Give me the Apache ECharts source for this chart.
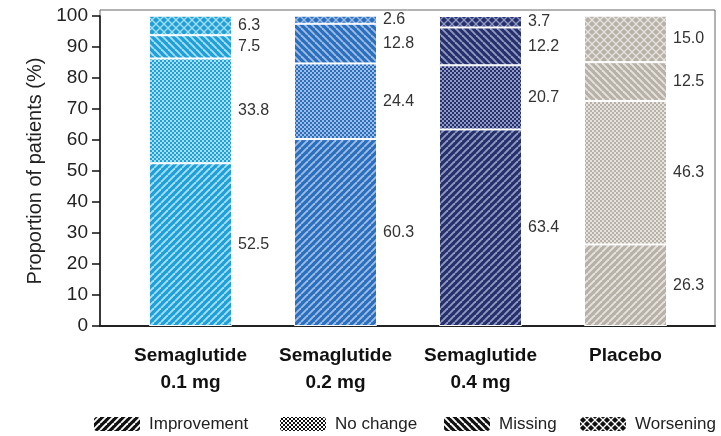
<!DOCTYPE html>
<html>
<head>
<meta charset="utf-8">
<script src="https://cdn.jsdelivr.net/npm/echarts@6/dist/echarts.min.js"></script>
<style>
html,body{margin:0;padding:0;background:#fff;}
#chart{width:721px;height:436px;}
</style>
</head>
<body>
<div id="chart"></div>
<script>
const categories = ['Semaglutide\n0.1 mg', 'Semaglutide\n0.2 mg', 'Semaglutide\n0.4 mg', 'Placebo'];
const seriesNames = ['Improvement', 'No change', 'Missing', 'Worsening'];
const improvement = [52.5, 60.3, 63.4, 26.3];
const noChange = [33.8, 24.4, 20.7, 46.3];
const missing = [7.5, 12.8, 12.2, 12.5];
const worsening = [6.3, 2.6, 3.7, 15.0];
const yMin = 0, yMax = 100, yInterval = 10;

const palette = [
  {bg: '#1ea0d8', fg: '#a8def4'},
  {bg: '#2c6fbd', fg: '#9bbde6'},
  {bg: '#26316b', fg: '#9098c4'},
  {bg: '#b7b1a8', fg: '#e6e3de'}
];
const kinds = ['fwd', 'checker', 'back', 'diamond'];

function pat(kind, bg, fg) {
  const c = document.createElement('canvas');
  let s = 7;
  if (kind === 'checker') s = 4;
  if (kind === 'diamond') s = 8;
  c.width = c.height = s;
  const g = c.getContext('2d');
  g.fillStyle = bg; g.fillRect(0, 0, s, s);
  g.strokeStyle = fg; g.fillStyle = fg;
  if (kind === 'fwd' || kind === 'back') {
    g.lineWidth = 1.9;
    for (const o of [-s, 0, s]) {
      g.beginPath();
      if (kind === 'fwd') { g.moveTo(o, s); g.lineTo(o + s, 0); }
      else { g.moveTo(o, 0); g.lineTo(o + s, s); }
      g.stroke();
    }
  } else if (kind === 'checker') {
    g.fillRect(2, 0, 2, 2);
    g.fillRect(0, 2, 2, 2);
  } else {
    g.fillRect(0, 0, s, s);
    g.fillStyle = bg;
    const r = 3.1;
    for (const [cx, cy] of [[4,4],[0,0],[8,0],[0,8],[8,8]]) {
      g.beginPath();
      g.moveTo(cx, cy - r); g.lineTo(cx + r, cy); g.lineTo(cx, cy + r); g.lineTo(cx - r, cy);
      g.closePath(); g.fill();
    }
  }
  return c;
}

const values = [improvement, noChange, missing, worsening];
const series = seriesNames.map((name, k) => ({
  name: name,
  type: 'bar',
  stack: 'total',
  xAxisIndex: 1,
  yAxisIndex: 1,
  barWidth: 83,
  itemStyle: {
    color: {image: pat(kinds[k], '#111', '#fff'), repeat: 'repeat'},
    borderColor: '#fff',
    borderWidth: 1
  },
  label: {
    show: true,
    position: 'right',
    distance: 6,
    fontSize: 16,
    color: '#333',
    fontFamily: 'Liberation Sans, Arial, sans-serif',
    formatter: p => p.value.toFixed(1)
  },
  data: values[k].map((v, i) => ({
    value: v,
    itemStyle: {color: {image: pat(kinds[k], palette[i].bg, palette[i].fg), repeat: 'repeat'}}
  }))
}));

const legendLefts = [92, 278, 442, 578];
const legends = seriesNames.map((n, k) => ({
  data: [n],
  left: legendLefts[k],
  top: 415,
  padding: 0,
  itemWidth: 48,
  itemHeight: 16,
  selectedMode: false,
  textStyle: {fontSize: 17, color: '#222', fontFamily: 'Liberation Sans, Arial, sans-serif', padding: [0, 0, 0, 3]}
}));

const chart = echarts.init(document.getElementById('chart'), null, {renderer: 'canvas'});
chart.setOption({
  backgroundColor: '#fff',
  animation: false,
  textStyle: {fontFamily: 'Liberation Sans, Arial, sans-serif'},
  grid: [
    {left: 100, right: 6, top: 10, bottom: 110, show: true, borderColor: '#666', borderWidth: 1},
    {left: 118, right: 23, top: 16, bottom: 110}
  ],
  xAxis: [
    {gridIndex: 0, type: 'value', min: 0, max: 1,
     axisLine: {show: true, onZero: false, lineStyle: {color: '#222', width: 2}},
     axisTick: {show: false}, axisLabel: {show: false}, splitLine: {show: false}},
    {gridIndex: 1, type: 'category', data: categories,
     axisLine: {show: false}, axisTick: {show: false},
     axisLabel: {interval: 0, fontSize: 19, fontWeight: 'bold', color: '#111', lineHeight: 27, margin: 16}}
  ],
  yAxis: [
    {gridIndex: 0, type: 'value', min: 0, max: 1, show: false},
    {gridIndex: 1, type: 'value', min: yMin, max: yMax, interval: yInterval, offset: 18,
     axisLine: {show: true, lineStyle: {color: '#111', width: 1.5}},
     axisTick: {show: true, length: 8, lineStyle: {color: '#111', width: 1.5}},
     axisLabel: {fontSize: 19, color: '#222', margin: 12},
     splitLine: {show: false},
     name: 'Proportion of patients (%)', nameLocation: 'middle', nameGap: 54,
     nameTextStyle: {fontSize: 20, color: '#222'}}
  ],
  legend: legends,
  series: series
});
</script>
</body>
</html>
